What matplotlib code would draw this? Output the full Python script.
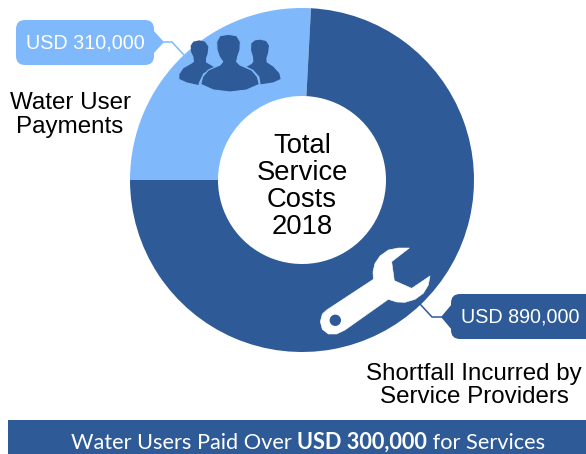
import matplotlib
import matplotlib.pyplot as plt
matplotlib.use('Agg')

from matplotlib.patches import FancyBboxPatch, Polygon, Rectangle, Circle

W, H = 586, 454
DARK = '#2E5A97'
LIGHT = '#7FB9FB'

categories = ['Water User\nPayments', 'Shortfall Incurred by\nService Providers']
values = [310000, 890000]
value_labels = ['USD 310,000', 'USD 890,000']
center_label = 'Total\nService\nCosts\n2018'
banner = ['Water Users Paid Over ', 'USD 300,000', ' for Services']

plt.rcParams['font.family'] = ['Liberation Sans', 'DejaVu Sans']

fig = plt.figure(figsize=(W / 100, H / 100), dpi=100)
ax = fig.add_axes([0, 0, 1, 1])


def py(y):
    # picture pixels run downwards, the axes upwards
    return H - y


ax.pie(values, colors=[LIGHT, DARK], startangle=87, counterclock=True,
       center=(302, py(180)), radius=172, frame=True,
       wedgeprops=dict(width=88, linewidth=0))
ax.set_xlim(0, W)
ax.set_ylim(0, H)
ax.set_aspect('equal')
ax.axis('off')


def icon(outline, x0, y0, **kw):
    pts = [(x0 + x / 3, py(y0 + y / 3)) for x, y in outline]
    ax.add_patch(Polygon(pts, closed=True, zorder=4, joinstyle='round', **kw))


person_left = [(88, 46), (105, 50), (115, 65), (113, 85), (108, 100), (108, 112), (125, 122), (135, 128),
               (100, 145), (88, 170), (85, 180), (50, 172), (28, 162), (28, 148), (40, 130), (66, 115),
               (72, 110), (70, 95), (63, 80), (62, 62), (70, 50)]
person_right = [(270, 44), (288, 48), (297, 62), (294, 85), (289, 100), (290, 112), (310, 125), (328, 145),
                (332, 162), (310, 172), (272, 178), (268, 155), (250, 135), (230, 125), (245, 117), (250, 110),
                (249, 95), (243, 75), (244, 55), (255, 46)]
person_mid = [(175, 28), (200, 32), (211, 50), (210, 75), (203, 95), (200, 110), (210, 120), (245, 135),
              (262, 155), (268, 178), (230, 195), (180, 201), (130, 195), (92, 178), (98, 155), (115, 135),
              (150, 120), (158, 110), (148, 95), (141, 75), (140, 50), (150, 32)]
wrench = [(35, 210), (175, 118), (174, 95), (180, 70), (195, 48), (220, 30), (250, 24), (283, 24),
          (230, 65), (238, 122), (290, 145), (345, 108), (340, 135), (325, 160), (300, 178), (270, 187),
          (245, 186), (220, 178), (90, 270), (65, 282), (40, 282), (22, 268), (16, 245), (22, 222)]

icon(person_left, 170, 25, facecolor=DARK, edgecolor='none')
icon(person_right, 170, 25, facecolor=DARK, edgecolor='none')
icon(person_mid, 170, 25, facecolor=DARK, edgecolor=LIGHT, lw=0.8)
icon(wrench, 315, 240, facecolor='white', edgecolor='white', lw=0.4)
ax.add_patch(Circle((335.3, py(320.3)), 5.7, color=DARK, lw=0, zorder=5))


def callout(x0, x1, y0, y1, notch, line, color):
    ax.add_patch(FancyBboxPatch((x0 + 8, py(y1) + 8), x1 - x0 - 16, y1 - y0 - 16,
                                boxstyle='round,pad=8,rounding_size=9', fc=color, ec='none', zorder=3))
    ax.add_patch(Polygon([(x, py(y)) for x, y in notch], closed=True, fc=color, ec='none', zorder=3))
    ax.plot([p[0] for p in line], [py(p[1]) for p in line], color=color, lw=1.1, zorder=3)


callout(16, 154, 20, 65, [(153, 30), (164, 42), (153, 54)], [(164, 42), (172, 42), (184, 55)], LIGHT)
callout(451, 600, 294, 339, [(452, 304), (441, 317), (452, 330)], [(441, 317), (432, 317), (420, 304)], DARK)

ax.text(85, py(43), value_labels[0], color='white', fontsize=14.2, ha='center', va='center', zorder=5)
ax.text(520, py(317), value_labels[1], color='white', fontsize=14.2, ha='center', va='center', zorder=5)

ax.text(302, py(186.5), center_label, color='black', fontsize=19.7, ha='center', va='center',
        linespacing=1.05, zorder=5)
ax.text(70, py(115), categories[0], color='black', fontsize=17.4, ha='center', va='center', linespacing=1.1)
ax.text(474, py(385.5), categories[1], color='black', fontsize=17.4, ha='center', va='center', linespacing=1.1)

ax.add_patch(Rectangle((8, 0), W - 8, py(420), color=DARK, lw=0, zorder=3))

# banner text, three runs placed one after the other
t = ax.text(71, py(441), banner[0], color='white', fontsize=15.7, family=['Lato'], va='center_baseline', zorder=5)
t = ax.annotate(banner[1], xy=(1, 0), xycoords=t, va='bottom', color='white', fontsize=15.7, family=['Lato'],
                fontweight='bold', zorder=5)
ax.annotate(banner[2], xy=(1, 0), xycoords=t, va='bottom', color='white', fontsize=15.7, family=['Lato'], zorder=5)

fig.savefig('out.png', dpi=100)
